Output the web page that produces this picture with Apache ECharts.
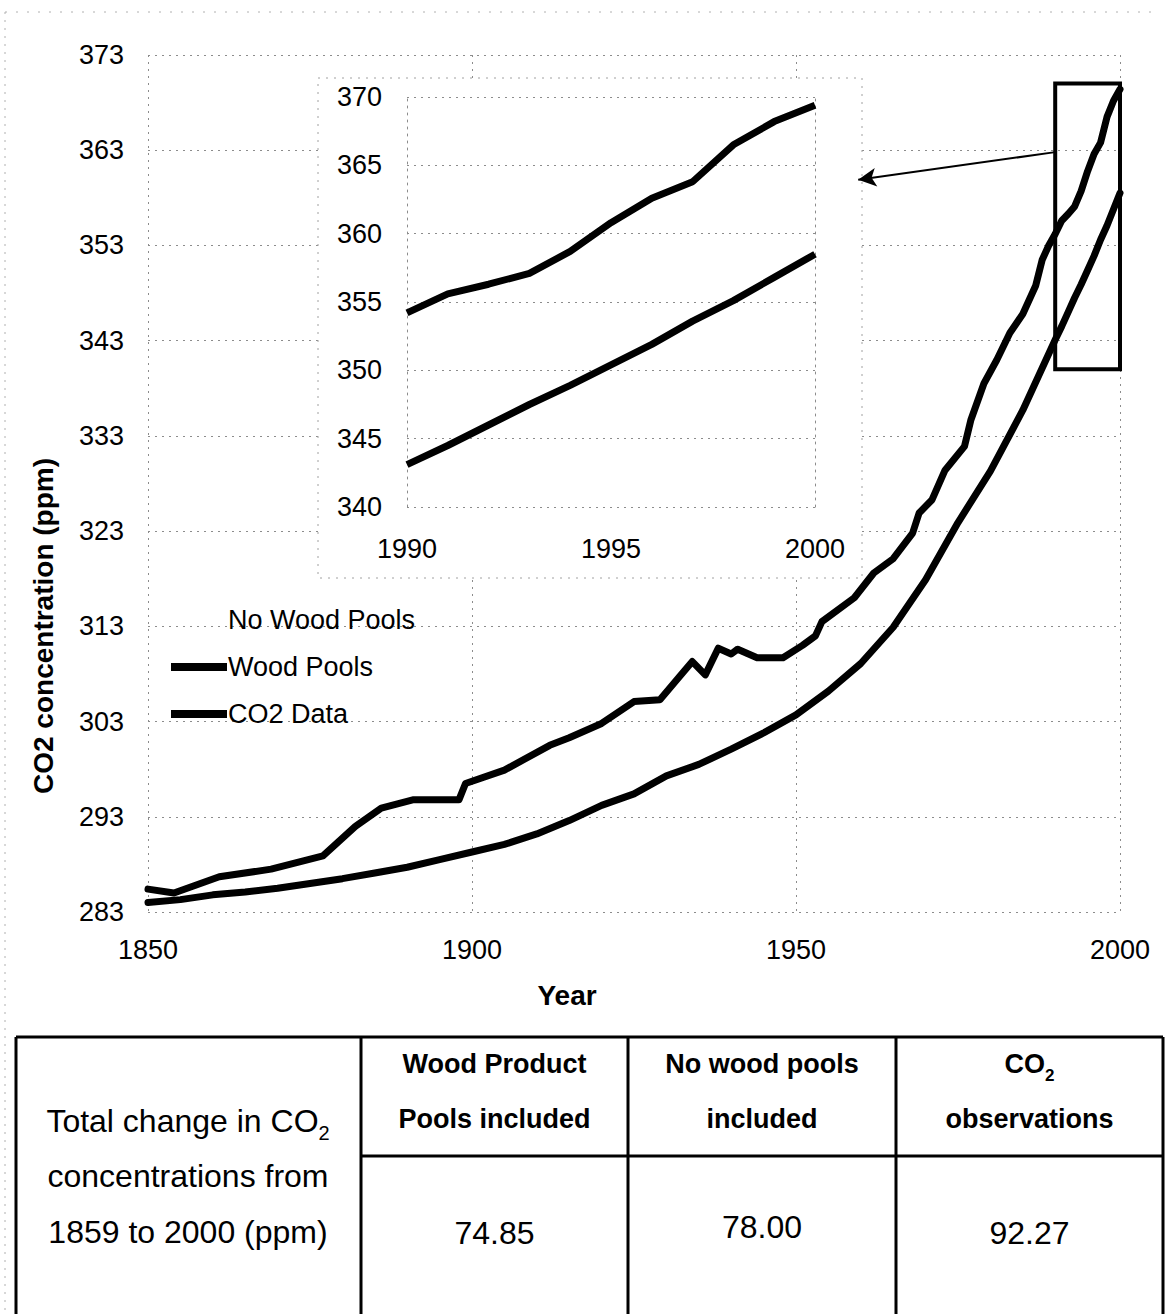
<!DOCTYPE html>
<html>
<head>
<meta charset="utf-8">
<title>CO2 concentration 1850-2000</title>
<script src="https://cdn.jsdelivr.net/npm/echarts@6/dist/echarts.min.js"></script>
<style>
  html, body { margin: 0; padding: 0; background: #fff; }
  #chart { width: 1167px; height: 1314px; }
</style>
</head>
<body>
<div id="chart"></div>
<script>
// Observed CO2 (ice core + atmospheric record), ppm
const co2Years = [1850, 1854, 1861, 1869, 1877, 1882, 1886, 1891, 1898, 1899, 1905, 1912, 1915, 1920,
  1925, 1929, 1932, 1934, 1936, 1938, 1940, 1941, 1944, 1948, 1951, 1953, 1954, 1959, 1962, 1965,
  1968, 1969, 1971, 1973, 1976, 1977, 1979, 1981, 1983, 1985, 1987, 1988, 1989];
const co2Ppm = [285.4, 285.0, 286.7, 287.5, 288.9, 292.0, 293.9, 294.8, 294.8, 296.5, 297.9, 300.5, 301.3, 302.8,
  305.1, 305.3, 307.7, 309.3, 307.9, 310.7, 310.1, 310.6, 309.7, 309.7, 311.0, 312.0, 313.5, 316.0, 318.6, 320.1,
  322.8, 324.9, 326.3, 329.4, 331.9, 334.7, 338.5, 341.0, 343.8, 345.8, 348.8, 351.5, 353.0];

// Modelled CO2 with wood product pools, ppm
const woodYears = [1850, 1855, 1860, 1865, 1870, 1875, 1880, 1885, 1890, 1895, 1900, 1905, 1910, 1915,
  1920, 1925, 1930, 1935, 1940, 1945, 1950, 1955, 1960, 1965, 1970, 1975, 1980, 1985];
const woodPpm = [284.0, 284.3, 284.8, 285.1, 285.5, 286.0, 286.5, 287.1, 287.7, 288.5, 289.3, 290.1, 291.2, 292.6,
  294.2, 295.4, 297.3, 298.5, 300.1, 301.8, 303.7, 306.2, 309.1, 312.9, 317.9, 323.9, 329.3, 335.7];

// Detail for the last decade (also closes both main curves)
const insetYears = [1990, 1991, 1992, 1993, 1994, 1995, 1996, 1997, 1998, 1999, 2000];
const insetCo2 = [354.2, 355.6, 356.3, 357.1, 358.7, 360.8, 362.6, 363.8, 366.5, 368.2, 369.4];
const insetWood = [343.1, 344.5, 346.0, 347.5, 348.9, 350.4, 351.9, 353.6, 355.1, 356.8, 358.5];

// Axis ranges / tick steps
const mainYearRange = [1850, 2000], mainYearStep = 50;
const mainPpmRange = [283, 373], mainPpmStep = 10;
const insetYearRange = [1990, 2000], insetYearStep = 5;
const insetPpmRange = [340, 370], insetPpmStep = 5;

// Zoom box and pointer (data coordinates)
const zoomBox = [[1990, 340], [2000, 370]];
const pointer = [[1990, 362.8], [1959.6, 359.9]];

// Summary table
const tableRowLabel = ['Total change in CO{s|2}', 'concentrations from', '1859 to 2000 (ppm)'];
const tableHeads = [['Wood Product', 'Pools included'], ['No wood pools', 'included'], ['CO{s|2}', 'observations']];
const tableValues = ['74.85', '78.00', '92.27'];

const FONT = '"Liberation Sans", Arial, Helvetica, sans-serif';
const pairs = (xs, ys) => xs.map((x, i) => [x, ys[i]]);
const plain = v => String(v);

const grid = '#8c8c8c';
const dotted = { color: grid, width: 1, type: [2, 5] };

const chart = echarts.init(document.getElementById('chart'), null, { renderer: 'svg' });

// table geometry
const tL = 16, tR = 1163, tT = 1037, tB = 1330, tMid = 1156;
const cols = [361, 628, 896];
const tableCenters = [(cols[0] + cols[1]) / 2, (cols[1] + cols[2]) / 2, (cols[2] + tR) / 2];
const line = (x1, y1, x2, y2, w) => ({
  type: 'line', z: 10, silent: true,
  shape: { x1, y1, x2, y2 },
  style: { stroke: '#000', lineWidth: w }
});
const txt = (text, x, y, size, weight, extra) => ({
  type: 'text', z: 10, silent: true, x, y,
  style: Object.assign({
    text, fill: '#000', font: `${weight} ${size}px ${FONT}`,
    align: 'center', verticalAlign: 'middle'
  }, extra || {})
});
const subText = (text, x, y, size, weight) => txt(
  text.indexOf('{s|') >= 0 ? '{m|' + text.replace('{s|2}', '') + '}{s|2}' : text,
  x, y, size, weight, {
    rich: {
      m: { fontSize: size, fontWeight: weight, fontFamily: FONT, lineHeight: size + 12, verticalAlign: 'middle', fill: '#000' },
      s: { fontSize: Math.round(size * 0.62), fontWeight: weight, fontFamily: FONT, verticalAlign: 'bottom', fill: '#000' }
    }
  });

const graphics = [
  // faint outer frame
  { type: 'line', silent: true, z: 0, shape: { x1: 5, y1: 12, x2: 5, y2: 1314 }, style: { stroke: '#b0b0b0', lineWidth: 1, lineDash: [2, 6] } },
  { type: 'line', silent: true, z: 0, shape: { x1: 5, y1: 12, x2: 1160, y2: 12 }, style: { stroke: '#b0b0b0', lineWidth: 1, lineDash: [2, 9] } },
  // inset panel background
  { type: 'rect', silent: true, z: 1, shape: { x: 318, y: 78, width: 544, height: 500 },
    style: { fill: '#fff', stroke: '#a0a0a0', lineWidth: 1, lineDash: [2, 6] } },
  // axis titles
  txt('CO2 concentration (ppm)', 43, 626, 28, 'bold', { }),
  txt('Year', 567, 995, 28, 'bold'),
  // table rules
  line(tL, tT, tR, tT, 3),
  line(tL, tT, tL, tB, 3),
  line(cols[0], tT, cols[0], tB, 3),
  line(cols[1], tT, cols[1], tB, 3),
  line(cols[2], tT, cols[2], tB, 3),
  line(tR, tT, tR, tB, 3),
  line(cols[0], tMid, tR, tMid, 3)
];
graphics[3].rotation = Math.PI / 2;

const rowY = [1121, 1176, 1232];
tableRowLabel.forEach((t, i) => graphics.push(subText(t, 188, rowY[i], 32, 'normal')));
tableHeads.forEach((h, i) => {
  graphics.push(subText(h[0], tableCenters[i], 1064, 27, 'bold'));
  graphics.push(subText(h[1], tableCenters[i], 1119, 27, 'bold'));
});
const valY = [1233, 1227, 1233];
tableValues.forEach((v, i) => graphics.push(txt(v, tableCenters[i], valY[i], 32, 'normal')));

const option = {
  animation: false,
  backgroundColor: '#fff',
  textStyle: { fontFamily: FONT, color: '#000' },
  grid: [
    { left: 148, top: 55, width: 972, height: 857 },
    { left: 407, top: 97, width: 408, height: 410, z: 5 }
  ],
  legend: {
    data: ['No Wood Pools', 'Wood Pools', 'CO2 Data'],
    orient: 'vertical', left: 166, top: 600,
    itemWidth: 56, itemHeight: 8, itemGap: 17, icon: 'rect',
    selectedMode: false,
    textStyle: { fontSize: 27, color: '#000', fontFamily: FONT, lineHeight: 30, padding: [0, 0, 0, -4] }
  },
  xAxis: [
    {
      type: 'value', gridIndex: 0, min: mainYearRange[0], max: mainYearRange[1], interval: mainYearStep,
      axisLine: { show: false }, axisTick: { show: false },
      axisLabel: { fontSize: 27, color: '#000', margin: 24, fontFamily: FONT, formatter: plain },
      splitLine: { show: true, lineStyle: dotted }
    },
    {
      type: 'value', gridIndex: 1, min: insetYearRange[0], max: insetYearRange[1], interval: insetYearStep, z: 5,
      axisLine: { show: false }, axisTick: { show: false },
      axisLabel: { fontSize: 27, color: '#000', margin: 28, fontFamily: FONT, formatter: plain },
      splitLine: { show: false }
    }
  ],
  yAxis: [
    {
      type: 'value', gridIndex: 0, min: mainPpmRange[0], max: mainPpmRange[1], interval: mainPpmStep,
      axisLine: { show: false }, axisTick: { show: false },
      axisLabel: { fontSize: 27, color: '#000', margin: 24, fontFamily: FONT, formatter: plain },
      splitLine: { show: true, lineStyle: dotted }
    },
    {
      type: 'value', gridIndex: 1, min: insetPpmRange[0], max: insetPpmRange[1], interval: insetPpmStep, z: 5,
      axisLine: { show: true, lineStyle: dotted }, axisTick: { show: false },
      axisLabel: { fontSize: 27, color: '#000', margin: 25, fontFamily: FONT, formatter: plain },
      splitLine: { show: true, lineStyle: dotted }
    },
    {
      type: 'value', gridIndex: 1, position: 'right', min: insetPpmRange[0], max: insetPpmRange[1], z: 5,
      axisLine: { show: true, lineStyle: dotted }, axisTick: { show: false },
      axisLabel: { show: false }, splitLine: { show: false }
    }
  ],
  series: [
    {
      name: 'No Wood Pools', type: 'line', xAxisIndex: 0, yAxisIndex: 0,
      data: [], showSymbol: false, color: '#ffffff', lineStyle: { color: '#ffffff', width: 7 }
    },
    {
      name: 'Wood Pools', type: 'line', xAxisIndex: 0, yAxisIndex: 0, z: 3,
      data: pairs(woodYears.concat(insetYears), woodPpm.concat(insetWood)),
      showSymbol: false, symbol: 'none', color: '#000',
      lineStyle: { color: '#000', width: 7, join: 'round', cap: 'round' },
      markArea: {
        silent: true,
        itemStyle: { color: 'rgba(0,0,0,0)', borderColor: '#000', borderWidth: 4 },
        data: [[{ coord: zoomBox[0] }, { coord: zoomBox[1] }]]
      }
    },
    {
      name: 'CO2 Data', type: 'line', xAxisIndex: 0, yAxisIndex: 0, z: 3,
      data: pairs(co2Years.concat(insetYears), co2Ppm.concat(insetCo2)),
      showSymbol: false, symbol: 'none', color: '#000',
      lineStyle: { color: '#000', width: 7, join: 'round', cap: 'round' },
      markLine: {
        silent: true, symbol: ['none', 'arrow'], symbolSize: [14, 18],
        label: { show: false },
        lineStyle: { color: '#000', width: 2, type: 'solid' },
        data: [[{ coord: pointer[0] }, { coord: pointer[1] }]]
      }
    },
    {
      name: 'CO2 Data (1990-2000)', type: 'line', xAxisIndex: 1, yAxisIndex: 1, z: 6,
      data: pairs(insetYears, insetCo2), showSymbol: false, symbol: 'none',
      lineStyle: { color: '#000', width: 7, join: 'round' }
    },
    {
      name: 'Wood Pools (1990-2000)', type: 'line', xAxisIndex: 1, yAxisIndex: 1, z: 6,
      data: pairs(insetYears, insetWood), showSymbol: false, symbol: 'none',
      lineStyle: { color: '#000', width: 7, join: 'round' }
    }
  ],
  graphic: { elements: graphics }
};

chart.setOption(option);
</script>
</body>
</html>
